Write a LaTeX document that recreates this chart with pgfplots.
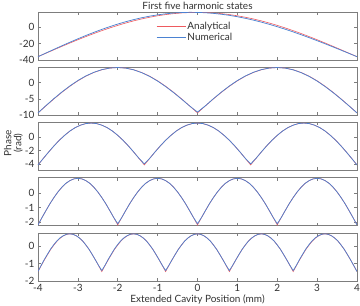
\documentclass[border=0pt]{standalone}
\usepackage{fontspec}
\setmainfont{Lato}
\usepackage{pgfplots}
\usepackage{pgfplotstable}
\pgfplotsset{compat=1.18}
\definecolor{anared}{RGB}{238,90,95}
\definecolor{numblue}{RGB}{75,130,210}
\definecolor{boxgray}{RGB}{125,125,125}
\definecolor{txtgray}{RGB}{50,50,50}

\pgfplotstableread{
x a b
-4.0 -36.00 -36.00
-3.8 -31.80 -31.55
-3.6 -27.63 -27.14
-3.4 -23.51 -22.78
-3.2 -19.47 -18.53
-3.0 -15.53 -14.40
-2.8 -11.71 -10.42
-2.6 -8.05 -6.62
-2.4 -4.55 -3.03
-2.2 -1.25 0.33
-2.0 1.83 3.43
-1.8 4.68 6.26
-1.6 7.28 8.80
-1.4 9.62 11.05
-1.2 11.67 12.96
-1.0 13.43 14.56
-0.8 14.88 15.82
-0.6 16.02 16.75
-0.4 16.84 17.33
-0.2 17.34 17.59
0.0 17.50 17.50
0.2 17.34 17.09
0.4 16.84 16.35
0.6 16.02 15.29
0.8 14.88 13.94
1.0 13.43 12.30
1.2 11.67 10.38
1.4 9.62 8.19
1.6 7.28 5.76
1.8 4.68 3.10
2.0 1.83 0.23
2.2 -1.25 -2.83
2.4 -4.55 -6.07
2.6 -8.05 -9.48
2.8 -11.71 -13.00
3.0 -15.53 -16.66
3.2 -19.47 -20.41
3.4 -23.51 -24.24
3.6 -27.63 -28.12
3.8 -31.80 -32.05
4.0 -36.00 -36.00
}\panelA

\pgfplotstableread{
x a b
-4.0 -9.30 -9.30
-3.8 -7.13 -7.05
-3.6 -5.00 -4.90
-3.4 -2.99 -2.88
-3.2 -1.13 -1.03
-3.0 0.53 0.62
-2.8 1.95 2.02
-2.6 3.08 3.13
-2.4 3.92 3.95
-2.2 4.43 4.44
-2.0 4.60 4.60
-1.8 4.43 4.42
-1.6 3.92 3.89
-1.4 3.08 3.03
-1.2 1.95 1.88
-1.0 0.53 0.45
-0.8 -1.13 -1.22
-0.6 -2.99 -3.07
-0.4 -5.00 -5.06
-0.2 -7.13 -7.15
0.0 -9.30 -9.05
0.2 -7.13 -7.10
0.4 -5.00 -4.94
0.6 -2.99 -2.91
0.8 -1.13 -1.04
1.0 0.53 0.61
1.2 1.95 2.02
1.4 3.08 3.13
1.6 3.92 3.95
1.8 4.43 4.44
2.0 4.60 4.60
2.2 4.43 4.42
2.4 3.92 3.89
2.6 3.08 3.03
2.8 1.95 1.88
3.0 0.53 0.45
3.2 -1.13 -1.22
3.4 -2.99 -3.07
3.6 -5.00 -5.06
3.8 -7.13 -7.15
4.0 -9.30 -9.30
}\panelB

\pgfplotstableread{
x a b
-4.0000 -4.10 -4.10
-3.8667 -3.15 -3.15
-3.7333 -2.22 -2.22
-3.6000 -1.33 -1.33
-3.4667 -0.51 -0.51
-3.3333 0.21 0.21
-3.2000 0.84 0.84
-3.0667 1.34 1.34
-2.9333 1.70 1.70
-2.8000 1.93 1.93
-2.6667 2.00 2.00
-2.5333 1.93 1.93
-2.4000 1.70 1.70
-2.2667 1.34 1.34
-2.1333 0.84 0.84
-2.0000 0.21 0.21
-1.8667 -0.51 -0.51
-1.7333 -1.33 -1.33
-1.6000 -2.22 -2.22
-1.4667 -3.15 -3.15
-1.3333 -4.10 -3.95
-1.2000 -3.15 -3.15
-1.0667 -2.22 -2.22
-0.9333 -1.33 -1.33
-0.8000 -0.51 -0.51
-0.6667 0.21 0.21
-0.5333 0.84 0.84
-0.4000 1.34 1.34
-0.2667 1.70 1.70
-0.1333 1.93 1.93
0.0000 2.00 2.00
0.1333 1.93 1.93
0.2667 1.70 1.70
0.4000 1.34 1.34
0.5333 0.84 0.84
0.6667 0.21 0.21
0.8000 -0.51 -0.51
0.9333 -1.33 -1.33
1.0667 -2.22 -2.22
1.2000 -3.15 -3.15
1.3333 -4.10 -3.95
1.4667 -3.15 -3.15
1.6000 -2.22 -2.22
1.7333 -1.33 -1.33
1.8667 -0.51 -0.51
2.0000 0.21 0.21
2.1333 0.84 0.84
2.2667 1.34 1.34
2.4000 1.70 1.70
2.5333 1.93 1.93
2.6667 2.00 2.00
2.8000 1.93 1.93
2.9333 1.70 1.70
3.0667 1.34 1.34
3.2000 0.84 0.84
3.3333 0.21 0.21
3.4667 -0.51 -0.51
3.6000 -1.33 -1.33
3.7333 -2.22 -2.22
3.8667 -3.15 -3.15
4.0000 -4.10 -4.10
}\panelC

\pgfplotstableread{
x a b
-4.0 -2.20 -2.20
-3.9 -1.69 -1.69
-3.8 -1.20 -1.20
-3.7 -0.72 -0.72
-3.6 -0.29 -0.29
-3.5 0.10 0.10
-3.4 0.43 0.43
-3.3 0.70 0.70
-3.2 0.89 0.89
-3.1 1.01 1.01
-3.0 1.05 1.05
-2.9 1.01 1.01
-2.8 0.89 0.89
-2.7 0.70 0.70
-2.6 0.43 0.43
-2.5 0.10 0.10
-2.4 -0.29 -0.29
-2.3 -0.72 -0.72
-2.2 -1.20 -1.20
-2.1 -1.69 -1.69
-2.0 -2.20 -2.12
-1.9 -1.69 -1.69
-1.8 -1.20 -1.20
-1.7 -0.72 -0.72
-1.6 -0.29 -0.29
-1.5 0.10 0.10
-1.4 0.43 0.43
-1.3 0.70 0.70
-1.2 0.89 0.89
-1.1 1.01 1.01
-1.0 1.05 1.05
-0.9 1.01 1.01
-0.8 0.89 0.89
-0.7 0.70 0.70
-0.6 0.43 0.43
-0.5 0.10 0.10
-0.4 -0.29 -0.29
-0.3 -0.72 -0.72
-0.2 -1.20 -1.20
-0.1 -1.69 -1.69
0.0 -2.20 -2.12
0.1 -1.69 -1.69
0.2 -1.20 -1.20
0.3 -0.72 -0.72
0.4 -0.29 -0.29
0.5 0.10 0.10
0.6 0.43 0.43
0.7 0.70 0.70
0.8 0.89 0.89
0.9 1.01 1.01
1.0 1.05 1.05
1.1 1.01 1.01
1.2 0.89 0.89
1.3 0.70 0.70
1.4 0.43 0.43
1.5 0.10 0.10
1.6 -0.29 -0.29
1.7 -0.72 -0.72
1.8 -1.20 -1.20
1.9 -1.69 -1.69
2.0 -2.20 -2.12
2.1 -1.69 -1.69
2.2 -1.20 -1.20
2.3 -0.72 -0.72
2.4 -0.29 -0.29
2.5 0.10 0.10
2.6 0.43 0.43
2.7 0.70 0.70
2.8 0.89 0.89
2.9 1.01 1.01
3.0 1.05 1.05
3.1 1.01 1.01
3.2 0.89 0.89
3.3 0.70 0.70
3.4 0.43 0.43
3.5 0.10 0.10
3.6 -0.29 -0.29
3.7 -0.72 -0.72
3.8 -1.20 -1.20
3.9 -1.69 -1.69
4.0 -2.20 -2.20
}\panelD

\pgfplotstableread{
x a b
-4.00 -1.47 -1.47
-3.92 -1.13 -1.11
-3.84 -0.80 -0.77
-3.76 -0.49 -0.46
-3.68 -0.19 -0.16
-3.60 0.06 0.09
-3.52 0.29 0.31
-3.44 0.46 0.48
-3.36 0.59 0.60
-3.28 0.67 0.68
-3.20 0.70 0.70
-3.12 0.67 0.67
-3.04 0.59 0.59
-2.96 0.46 0.46
-2.88 0.29 0.29
-2.80 0.06 0.06
-2.72 -0.19 -0.19
-2.64 -0.49 -0.49
-2.56 -0.80 -0.80
-2.48 -1.13 -1.12
-2.40 -1.47 -1.41
-2.32 -1.13 -1.11
-2.24 -0.80 -0.77
-2.16 -0.49 -0.46
-2.08 -0.19 -0.16
-2.00 0.06 0.09
-1.92 0.29 0.31
-1.84 0.46 0.48
-1.76 0.59 0.60
-1.68 0.67 0.68
-1.60 0.70 0.70
-1.52 0.67 0.67
-1.44 0.59 0.59
-1.36 0.46 0.46
-1.28 0.29 0.29
-1.20 0.06 0.06
-1.12 -0.19 -0.19
-1.04 -0.49 -0.49
-0.96 -0.80 -0.80
-0.88 -1.13 -1.12
-0.80 -1.47 -1.41
-0.72 -1.13 -1.12
-0.64 -0.80 -0.80
-0.56 -0.49 -0.49
-0.48 -0.19 -0.19
-0.40 0.06 0.06
-0.32 0.29 0.29
-0.24 0.46 0.46
-0.16 0.59 0.59
-0.08 0.67 0.67
0.00 0.70 0.70
0.08 0.67 0.67
0.16 0.59 0.59
0.24 0.46 0.46
0.32 0.29 0.29
0.40 0.06 0.06
0.48 -0.19 -0.19
0.56 -0.49 -0.49
0.64 -0.80 -0.80
0.72 -1.13 -1.12
0.80 -1.47 -1.41
0.88 -1.13 -1.12
0.96 -0.80 -0.80
1.04 -0.49 -0.49
1.12 -0.19 -0.19
1.20 0.06 0.06
1.28 0.29 0.29
1.36 0.46 0.46
1.44 0.59 0.59
1.52 0.67 0.67
1.60 0.70 0.70
1.68 0.67 0.67
1.76 0.59 0.59
1.84 0.46 0.46
1.92 0.29 0.29
2.00 0.06 0.06
2.08 -0.19 -0.19
2.16 -0.49 -0.49
2.24 -0.80 -0.80
2.32 -1.13 -1.12
2.40 -1.47 -1.41
2.48 -1.13 -1.11
2.56 -0.80 -0.77
2.64 -0.49 -0.46
2.72 -0.19 -0.16
2.80 0.06 0.09
2.88 0.29 0.31
2.96 0.46 0.48
3.04 0.59 0.60
3.12 0.67 0.68
3.20 0.70 0.70
3.28 0.67 0.67
3.36 0.59 0.59
3.44 0.46 0.46
3.52 0.29 0.29
3.60 0.06 0.06
3.68 -0.19 -0.19
3.76 -0.49 -0.49
3.84 -0.80 -0.80
3.92 -1.13 -1.13
4.00 -1.47 -1.47
}\panelE

\pgfplotsset{
  panel/.style={
    scale only axis, width=319bp, height=48bp,
    anchor=north west,
    xmin=-4, xmax=4, xtick={-4,-3,...,4},
    tick align=inside, tick pos=both,
    xticklabel pos=left, yticklabel pos=left,
    major tick length=3bp,
    axis line style={boxgray, line width=0.6bp},
    every tick/.style={boxgray, line width=0.6bp},
    tick label style={font=\fontsize{10bp}{12bp}\selectfont, text=txtgray},
    /pgf/number format/assume math mode=true,
    clip=true,
  },
  ana/.style={anared, line width=0.6bp},
  num/.style={numblue, line width=0.72bp},
}

\begin{document}
\begin{tikzpicture}
\path[use as bounding box] (-38bp,12bp) rectangle (322bp,-294bp);

\begin{axis}[panel, at={(0,0)},
  ymin=-40, ymax=18, ytick={-40,-20,0}, xticklabels={},
  title={First five harmonic states},
  every axis title shift=0pt,
  title style={at={(axis description cs:0.5,1)}, anchor=base, yshift=2.5bp, inner sep=0pt, font=\fontsize{10bp}{12bp}\selectfont, text=txtgray},
  legend style={draw=none, fill=none, at={(axis description cs:0.37,0.83)}, anchor=north west,
    font=\fontsize{10bp}{10bp}\selectfont, text=txtgray, row sep=-1bp, inner sep=0pt,
    nodes={inner sep=1.5bp}},
  legend cell align=left,
  legend image code/.code={\draw[#1] (0bp,0bp) -- (29bp,0bp);},
]
\addplot[ana] table[x=x, y=a] {\panelA};
\addlegendentry{Analytical}
\addplot[num] table[x=x, y=b] {\panelA};
\addlegendentry{Numerical}
\end{axis}

\begin{axis}[panel, at={(0,-55.2bp)},
  ymin=-10, ymax=4.7, ytick={-10,-5,0}, xticklabels={}]
\addplot[ana] table[x=x, y=a] {\panelB};
\addplot[num] table[x=x, y=b] {\panelB};
\end{axis}

\begin{axis}[panel, at={(0,-110.4bp)},
  ymin=-4.9, ymax=2.1, ytick={-4,-2,0}, xticklabels={},
  ylabel={Phase\\(rad)},
  ylabel style={align=center, at={(axis description cs:-0.077,0.57)}, anchor=center,
    font=\fontsize{10bp}{10bp}\selectfont, text=txtgray}]
\addplot[ana] table[x=x, y=a] {\panelC};
\addplot[num] table[x=x, y=b] {\panelC};
\end{axis}

\begin{axis}[panel, at={(0,-165.6bp)},
  ymin=-2.25, ymax=1.1, ytick={-2,-1,0}, xticklabels={}]
\addplot[ana] table[x=x, y=a] {\panelD};
\addplot[num] table[x=x, y=b] {\panelD};
\end{axis}

\begin{axis}[panel, at={(0,-220.8bp)},
  ymin=-2, ymax=0.76, ytick={-2,-1,0},
  xlabel={Extended Cavity Position (mm)},
  xlabel style={at={(axis description cs:0.5,0)}, anchor=center, yshift=-18.5bp,
    font=\fontsize{10bp}{12bp}\selectfont, text=txtgray}]
\addplot[ana] table[x=x, y=a] {\panelE};
\addplot[num] table[x=x, y=b] {\panelE};
\end{axis}
\end{tikzpicture}
\end{document}
